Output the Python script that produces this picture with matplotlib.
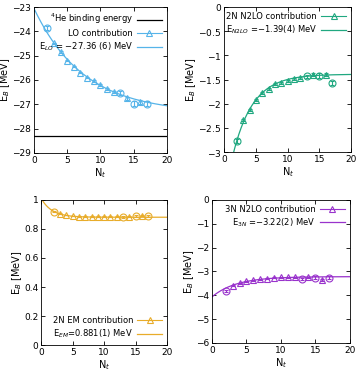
import numpy as np
import matplotlib.pyplot as plt
from matplotlib.lines import Line2D

plt.rcParams["font.family"] = ["DejaVu Sans"]
plt.rcParams["font.size"] = 6.5

# Euclidean time steps
nt = [2, 3, 4, 5, 6, 7, 8, 9, 10, 11, 12, 13, 14, 15, 16, 17]
circle_pts = [2, 13, 15, 17]

lo_vals = [-23.85, -24.5, -24.85, -25.2, -25.45, -25.7, -25.9, -26.05, -26.22,
           -26.38, -26.5, -26.55, -26.75, -26.97, -26.9, -26.97]
lo_err = [0.08, 0.03, 0.03, 0.03, 0.03, 0.03, 0.03, 0.03, 0.04, 0.04, 0.05, 0.08,
          0.06, 0.12, 0.08, 0.12]
he4_exp = -28.3

n2lo_vals = [-2.77, -2.33, -2.13, -1.92, -1.78, -1.70, -1.60, -1.57, -1.53, -1.49,
             -1.46, -1.43, -1.40, -1.42, -1.40, -1.57]
n2lo_err = [0.04, 0.02, 0.02, 0.02, 0.02, 0.02, 0.02, 0.02, 0.02, 0.02, 0.02, 0.03,
            0.03, 0.05, 0.03, 0.05]

em_vals = [0.92, 0.905, 0.895, 0.89, 0.886, 0.885, 0.885, 0.885, 0.885, 0.885,
           0.886, 0.883, 0.886, 0.888, 0.89, 0.89]
em_err = [0.005, 0.002, 0.002, 0.002, 0.002, 0.002, 0.002, 0.002, 0.002, 0.002,
          0.002, 0.004, 0.003, 0.005, 0.003, 0.005]

n3_vals = [-3.82, -3.60, -3.50, -3.42, -3.37, -3.33, -3.30, -3.27, -3.25, -3.25,
           -3.25, -3.32, -3.25, -3.27, -3.35, -3.27]
n3_err = [0.05, 0.02, 0.02, 0.02, 0.02, 0.02, 0.02, 0.02, 0.02, 0.02, 0.02, 0.05,
          0.03, 0.06, 0.04, 0.06]

# exponential fits E(N) = E_inf + A exp(-N/tau)
fits = {
    "lo": (-27.36, 4.3, 7.5),
    "n2lo": (-1.39, -2.6, 3.14),
    "em": (0.881, 0.13, 1.7),
    "n3": (-3.22, -0.85, 3.5),
}

c_lo = "#56b4e9"
c_n2lo = "#20a880"
c_em = "#e8ac2a"
c_n3 = "#9933cc"

fig = plt.figure(figsize=(3.58, 3.71), dpi=100)
axes = [
    fig.add_axes([0.095, 0.588, 0.371, 0.393]),
    fig.add_axes([0.626, 0.590, 0.355, 0.391]),
    fig.add_axes([0.115, 0.070, 0.352, 0.391]),
    fig.add_axes([0.592, 0.0755, 0.385, 0.386]),
]


def draw(ax, vals, err, color, fit):
    x = np.array(nt)
    v = np.array(vals)
    e = np.array(err)
    circ = np.isin(x, circle_pts)
    xx = np.linspace(0, 20, 300)
    einf, a, tau = fit
    ax.plot(xx, einf + a * np.exp(-xx / tau), color=color, lw=0.9)
    ax.errorbar(x[~circ], v[~circ], yerr=e[~circ], fmt="^", ms=4, mfc="none",
                mec=color, ecolor=color, mew=0.8, elinewidth=0.8, capsize=1.5)
    ax.errorbar(x[circ], v[circ], yerr=e[circ], fmt="o", ms=5, mfc="none",
                mec=color, ecolor=color, mew=0.8, elinewidth=0.8, capsize=1.5)
    ax.set_xlim(0, 20)
    ax.set_xticks([0, 5, 10, 15, 20])
    ax.tick_params(direction="in", top=True, right=True, length=3, width=0.6,
                   pad=2, labelsize=6.5)
    for s in ax.spines.values():
        s.set_linewidth(0.6)
    ax.set_xlabel("N$_t$", fontsize=7, labelpad=1)
    ax.set_ylabel("E$_B$ [MeV]", fontsize=7, labelpad=0)


def legend(ax, color, label, fitlabel, loc, extra=None):
    pts = Line2D([], [], color=color, lw=0.8, marker="^", ms=4, mfc="none",
                 mew=0.8)
    fl = Line2D([], [], color=color, lw=0.9)
    handles = [pts, fl]
    labels = [label, fitlabel]
    if extra is not None:
        handles = [extra[0]] + handles
        labels = [extra[1]] + labels
    ax.legend(handles, labels, loc=loc, markerfirst=False, frameon=False,
              fontsize=6, handlelength=3, borderaxespad=0.2, labelspacing=0.3,
              handletextpad=0.5)


ax = axes[0]
he = ax.axhline(he4_exp, color="black", lw=0.9)
draw(ax, lo_vals, lo_err, c_lo, fits["lo"])
ax.set_ylim(-29, -23)
legend(ax, c_lo, "LO contribution", "E$_{LO}$ = $-$27.36 (6) MeV", "upper right",
       extra=(he, "$^4$He binding energy"))

ax = axes[1]
draw(ax, n2lo_vals, n2lo_err, c_n2lo, fits["n2lo"])
ax.set_ylim(-3, 0)
ax.set_yticks([-3, -2.5, -2, -1.5, -1, -0.5, 0])
ax.set_yticklabels(["$-$3", "$-$2.5", "$-$2", "$-$1.5", "$-$1", "$-$0.5", "0"])
legend(ax, c_n2lo, "2N N2LO contribution", "E$_{N2LO}$ =$-$1.39(4) MeV",
       "upper right")

ax = axes[2]
draw(ax, em_vals, em_err, c_em, fits["em"])
ax.set_ylim(0, 1)
ax.set_yticks([0, 0.2, 0.4, 0.6, 0.8, 1])
ax.set_yticklabels(["0", "0.2", "0.4", "0.6", "0.8", "1"])
legend(ax, c_em, "2N EM contribution", "E$_{EM}$=0.881(1) MeV", "lower right")

ax = axes[3]
draw(ax, n3_vals, n3_err, c_n3, fits["n3"])
ax.set_ylim(-6, 0)
legend(ax, c_n3, "3N N2LO contribution", "E$_{3N}$ =$-$3.22(2) MeV",
       "upper right")

fig.savefig("out.png", dpi=100)
